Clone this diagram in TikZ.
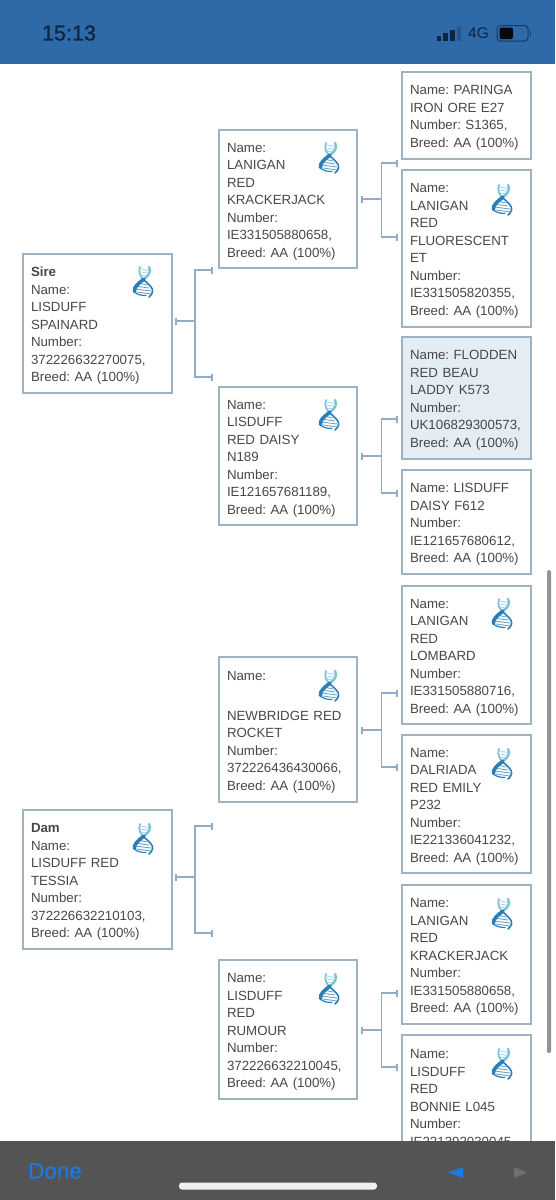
\documentclass[tikz,border=0pt]{standalone}
\usepackage{fontspec}
\setmainfont{Liberation Sans}
\newfontfamily\semifont[FakeBold=0.7]{Liberation Sans}
\definecolor{edgeblue}{HTML}{9DB3C3}
\definecolor{connblue}{HTML}{92ACC8}
\definecolor{txtgrey}{HTML}{484848}
\definecolor{headblue}{HTML}{2E69A8}
\definecolor{headdark}{HTML}{0E2540}
\definecolor{barblue}{HTML}{1B7AE0}
\definecolor{selfill}{HTML}{E4ECF4}
\definecolor{dnalight}{HTML}{7FC3D9}
\definecolor{dnadark}{HTML}{2B7FB8}
\tikzset{
  pedbox/.style={draw=edgeblue,line width=1.2pt,fill=white,inner xsep=8pt,inner ysep=0pt,align=left,
    text=txtgrey,font=\fontsize{13.3}{17.5}\selectfont\frenchspacing,
    execute at begin node={\rule{0pt}{14pt}\ignorespaces}},
  boxa/.style={pedbox,text width=133pt},
  boxb/.style={pedbox,text width=122pt},
  boxc/.style={pedbox,text width=113pt},
  conn/.style={draw=connblue,line width=1.6pt},
  tick/.style={fill=connblue,inner sep=0pt,minimum width=2.6pt,minimum height=7pt},
  fork/.style={conn},
  dna/.pic={
    \foreach \yy/\xa/\xb in {-13/-2/6,-10/-2/7,-7/-2/6}{
      \draw[dnalight!70!white,line width=.8pt] (\xa,\yy) -- (\xb,\yy+1.5);}
    \foreach \yy/\xa/\xb in {1/-5/4,4/-8/6,7/-8/8,10/-6/8}{
      \draw[dnadark!70!white,line width=.9pt] (\xa,\yy) -- (\xb,\yy+2);}
    \draw[dnalight,line width=1.8pt,line cap=round] (-3,-15) .. controls (-5,-8) and (-2,-5) .. (1,-2);
    \draw[dnadark,line width=1.6pt,line cap=round] (1,-2) .. controls (5,2) and (11,6) .. (9.5,10) .. controls (9,12) and (7.5,14) .. (6,15);
    \draw[dnalight,line width=2.4pt,line cap=round] (6,-15) .. controls (9,-10) and (5,-6) .. (1,-3);
    \draw[dnadark,line width=3.6pt,line cap=round] (1,-3) .. controls (-4,1) and (-9.5,5) .. (-8.5,9.5);
    \draw[dnadark,line width=1.2pt,line cap=round] (-8.5,10) .. controls (-6,12.5) and (-2,13.5) .. (3,13.5);
  }
}
\begin{document}
\begin{tikzpicture}[x=1pt,y=-1pt]
\useasboundingbox (0,0) rectangle (555,1200);
\fill[white] (0,0) rectangle (555,1200);

% scrollbar
\fill[gray!85,rounded corners=1.5pt] (547,570) rectangle (551,1053);

% pedigree boxes
\node[boxa,minimum height=139pt] (sire) at (97.5,323.5) {\textbf{Sire}\\Name:\\LISDUFF\\SPAINARD\\Number:\\372226632270075,\\Breed: AA (100\%)};
\node[boxb,minimum height=138pt] (kj) at (288,199) {Name:\\LANIGAN\\RED\\KRACKERJACK\\Number:\\IE331505880658,\\Breed: AA (100\%)};
\node[boxb,minimum height=138pt] (daisyn) at (288,456) {Name:\\LISDUFF\\RED DAISY\\N189\\Number:\\IE121657681189,\\Breed: AA (100\%)};
\node[boxc,minimum height=87pt] (paringa) at (466.5,115.5) {Name: PARINGA\\IRON ORE E27\\Number: S1365,\\Breed: AA (100\%)};
\node[boxc,minimum height=157pt] (fluor) at (466.5,248.5) {Name:\\LANIGAN\\RED\\FLUORESCENT\\ET\\Number:\\IE331505820355,\\Breed: AA (100\%)};
\node[boxc,draw=edgeblue,fill=selfill,minimum height=122pt] (flodden) at (466.5,398) {Name: FLODDEN\\RED BEAU\\LADDY K573\\Number:\\UK106829300573,\\Breed: AA (100\%)};
\node[boxc,minimum height=104pt] (daisyf) at (466.5,522) {Name: LISDUFF\\DAISY F612\\Number:\\IE121657680612,\\Breed: AA (100\%)};
\node[boxb,minimum height=145pt] (newb) at (288,729.5) {Name:\\[22.5pt]NEWBRIDGE RED\\ROCKET\\Number:\\372226436430066,\\Breed: AA (100\%)};
\node[boxc,minimum height=138pt] (lomb) at (466.5,655) {Name:\\LANIGAN\\RED\\LOMBARD\\Number:\\IE331505880716,\\Breed: AA (100\%)};
\node[boxc,minimum height=138pt] (dalr) at (466.5,804) {Name:\\DALRIADA\\RED EMILY\\P232\\Number:\\IE221336041232,\\Breed: AA (100\%)};
\node[boxa,minimum height=139pt] (dam) at (97.5,879.5) {\textbf{Dam}\\Name:\\LISDUFF RED\\TESSIA\\Number:\\372226632210103,\\Breed: AA (100\%)};
\node[boxb,minimum height=139pt] (rumour) at (288,1029.5) {Name:\\LISDUFF\\RED\\RUMOUR\\Number:\\372226632210045,\\Breed: AA (100\%)};
\node[boxc,minimum height=139pt] (kj2) at (466.5,954.5) {Name:\\LANIGAN\\RED\\KRACKERJACK\\Number:\\IE331505880658,\\Breed: AA (100\%)};
\node[boxc,minimum height=121pt] (bonnie) at (466.5,1095.5) {Name:\\LISDUFF\\RED\\BONNIE L045\\Number:\\IE221392030045};

% DNA icons
\foreach \cx/\cy in {143/282,329/158,502/200,329/415,502/614,329/686,502/764,143/839,329/989,502/914,502/1064}{
  \pic at (\cx,\cy) {dna};
}

% connectors
\newcommand{\forkdraw}[7]{%
  \node[tick] (#1o) at (#2,#5) {};
  \node[tick] (#1a) at (#4,#6) {};
  \node[tick] (#1b) at (#4,#7) {};
  \coordinate (#1m) at (#3,#5);
  \draw[fork] (#1o.center) -- (#1m);
  \draw[fork] (#1a.center) -| (#1m) |- (#1b.center);
}
\forkdraw{s}{176}{195}{212}{321}{270}{377}
\forkdraw{k}{362}{381.5}{397}{199}{163}{237}
\forkdraw{n}{362}{381.5}{397}{456}{419}{493}
\forkdraw{w}{362}{381.5}{397}{730}{693}{767}
\forkdraw{d}{176}{195}{212}{877}{826}{933}
\forkdraw{r}{362}{381.5}{397}{1030}{993}{1067}

% status bar
\fill[headblue] (0,0) rectangle (555,64);
\node[text=headdark,font=\fontsize{21.6}{24}\selectfont\semifont,inner sep=0pt] (clock) at (69,33) {15:13};
\fill[headdark] (437,36) rectangle (441,41);
\fill[headdark] (443,33) rectangle (448,41);
\fill[headdark] (449.5,29.5) rectangle (455,41);
\fill[headblue!70!headdark] (457,26.5) rectangle (461,41);
\node[text=headdark,font=\fontsize{15.5}{18}\selectfont,inner sep=0pt] (net) at (478.5,33.5) {4G};
\draw[headdark!70!headblue,line width=1pt,rounded corners=3.5pt] (497,25.5) rectangle (528,41);
\fill[black!90!headblue,rounded corners=2pt] (499.5,27.5) rectangle (513,39);
\fill[headdark!60!headblue] (530,31) rectangle (531,36);

% toolbar
\fill[black!67] (0,1141) rectangle (555,1200);
\node[text=barblue,font=\fontsize{22.4}{26}\selectfont\semifont,inner sep=0pt] (done) at (55,1171) {Done};
\fill[barblue] (448,1172.5) -- (463,1167) -- (463,1178) -- cycle;
\fill[black!56] (527,1172.5) -- (514,1167) -- (514,1178) -- cycle;
\fill[black!6,rounded corners=3pt] (179,1182.5) rectangle (377,1189.5);
\end{tikzpicture}
\end{document}
